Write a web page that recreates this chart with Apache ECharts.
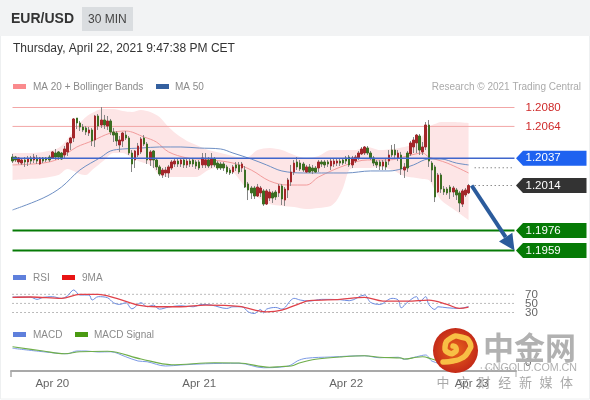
<!DOCTYPE html>
<html><head><meta charset="utf-8">
<style>html,body{margin:0;padding:0;background:#fff}#c{width:590px;height:400px}</style>
<script src="https://cdn.jsdelivr.net/npm/echarts@6/dist/echarts.min.js"></script>
</head><body><div id="c"></div>
<script>
// All price arrays are pips above 1.2000
const openPips=[38.1,38.1,33.9,33,35.6,33.9,37.3,35.6,37.3,32.2,
37.3,37.3,38.1,37.3,41.5,42.4,41.5,39.8,42.4,50,
54.2,71.1,66.9,63.5,62.7,58.4,61,52.5,72.8,65.2,
69.4,64.3,68.6,59.3,58.4,48.3,51.7,56.7,54.2,41.5,
35.6,39.8,42.4,54.2,49.1,35.6,43.2,35.6,29.7,22.9,
24.6,24.6,28.8,32.2,34.7,32.2,35.6,31.4,34.7,35.6,
33.9,33.9,31.4,31.4,35.6,31.4,36.4,33,32.2,32.2,
29.7,27.1,25.4,31.4,31.4,28.8,27.1,15.3,11.9,11.9,
5.1,7.7,9.4,-1.7,3.4,7.7,8.5,7.7,13.6,1.7,
10.2,17,25.4,33.9,33,32.2,25.4,29.7,28.8,28.8,
28.8,33.9,33.9,33.9,30.5,32.2,33,34.7,35.6,37.3,
38.1,31.4,34.7,37.3,40.7,41.5,45.7,41.5,37.3,33.9,
33.9,30.5,33.9,34.7,44,44,37.3,39.8,27.1,41.5,
40.7,46.6,50,55.9,42.4,46.6,65.2,33,29.7,8.5,
22.9,11,11,12.7,8.5,10.2,7.7,-1.7,6,7.7];
const closePips=[34.7,35.6,37.3,35.6,33.9,36.4,34.7,38.1,34.7,37.3,
34.7,35.6,35.6,42.4,38.1,38.1,36.4,44.9,50,54.2,
70.3,66.9,63.5,61,59.3,61,51.7,72.8,64.3,69.4,
65.2,68.6,59.3,56.7,51.7,52.5,58.4,54.2,41.5,32.2,
43.2,47.4,53.4,49.1,35.6,42.4,35.6,29.7,23.7,27.1,
27.1,29.7,33.9,34.7,32.2,35.6,31.4,34.7,32.2,32.2,
30.5,28.8,37.3,35.6,30.5,36.4,31.4,28.8,28.8,28.8,
25.4,24.6,29.7,28.8,25.4,32.2,12.7,10.2,7.7,5.1,
12.7,11.9,-1.7,9.4,8.5,3.4,4.3,13.6,2.6,11,
18.7,25.4,33,29.7,28,27.1,29.7,25.4,26.3,25.4,
33.9,32.2,31.4,32.2,34.7,34.7,34.7,33,33,34.7,
31.4,37.3,38.1,41.5,44.9,46.6,41.5,37.3,33,31.4,
30.5,33.9,29.7,39.8,39.8,39.8,41.5,28,29.7,28.8,
50,52.5,56.7,44,46.6,65.2,34.7,27.1,4.3,22.9,
11,8.5,7.7,8.5,11.9,6,-0.8,9.4,10.2,14];
const highPips=[40.7,39,38.1,37.3,38.1,39,39,40.7,39.8,38.1,
38.1,38.1,39.8,43.2,44.9,43.2,42.4,47.4,50.8,55,
71.1,71.1,68.6,66,64.3,63.5,62.7,73.7,74.5,80.4,
73.7,72.8,70.3,62.7,60.1,55.9,59.3,60.1,55.9,44,
44,50,55,56.7,50.8,44,44,37.3,31.4,28.8,
29.7,31.4,35.6,37.3,36.4,37.3,37.3,36.4,36.4,37.3,
35.6,35.6,41.5,41.5,38.1,41.5,38.1,34.7,33.9,33.9,
31.4,28.8,31.4,33.9,33.9,33.9,30.5,17,13.6,13.6,
15.3,13.6,11,11,11,9.4,10.2,15.3,15.3,12.7,
20.4,31.4,35.6,38.1,35.6,33.9,31.4,32.2,31.4,30.5,
35.6,35.6,35.6,35.6,36.4,36.4,36.4,36.4,37.3,39,
39.8,39,39.8,43.2,46.6,47.4,47.4,43.2,39,35.6,
35.6,35.6,37.3,44,48.3,49.1,44,42.4,33,43.2,
51.7,55,57.6,57.6,50.8,67.7,69.4,34.7,31.4,24.6,
24.6,13.6,12.7,14.4,13.6,11.9,9.4,11,11.9,15.3];
const lowPips=[33,33.9,32.2,31.4,29.7,30.5,32.2,33,32.2,31.4,
33,33.9,33.9,36.4,35.6,35.6,35.6,37.3,39,44,
50.8,61.8,60.1,59.3,56.7,55.9,47.4,46.6,61,62.7,
61.8,61,56.7,50.8,47.4,42.4,46.6,52.5,39.8,25.4,
28.8,38.1,40.7,47.4,32.2,30.5,28.8,27.1,22,20.4,
21.2,20.4,27.1,29.7,29.7,29.7,28.8,28.8,29.7,29.7,
28,27.1,28.8,28.8,28.8,28.8,29.7,27.1,27.1,26.3,
23.7,22.9,23.7,26.3,23.7,25.4,11.9,1.7,2.6,2.6,
4.3,4.3,-3.3,-2.5,0.9,-0.8,1.7,4.3,-2.5,-3.3,
3.4,13.6,22.9,27.1,26.3,25.4,24.6,24.6,23.7,24.6,
25.4,29.7,28.8,29.7,27.1,29.7,30.5,30.5,31.4,32.2,
29.7,28.8,33,35.6,39.8,39.8,39.8,35.6,30.5,28.8,
27.1,27.1,27.1,31.4,38.1,37.3,34.7,22.9,20.4,25.4,
39,41.5,41.5,39.8,39.8,44,29.7,17,0,7.7,
7.7,6,6,2.6,4.3,1.7,-8.4,-4.2,4.3,6.8];

const bandIdx=[0,5,10,15,18,20,22,24,26,28,30,33,36,39,42,45,48,51,54,57,60,64,68,72,76,78,80,84,88,92,96,100,104,106,108,110,112,116,120,124,128,132,134,136,138,140,144,149];
const bandUpperPips=[41.5,41.5,42.4,45.7,53.4,60.1,66.9,72,75.3,77.9,78.7,78.7,77,76.2,77.9,76.2,72,63.5,56.7,51.7,48.3,44,41.5,39,37.3,39.8,44,45.7,44,39.8,37.3,39,44,44,44,44,44,46.6,44,44.9,46.6,50,55.9,63.5,66,67.7,67.7,66.9];
const bandLowerPips=[18.7,19.5,20.4,22.9,28,26.3,23.7,22.9,27.1,31.4,35.6,41.5,41.5,37.3,33.9,31.4,22.9,21.2,21.2,21.2,21.2,27.1,29.7,25.4,12.7,8.5,4.3,-1.7,-3.3,-4.2,-5.9,-5,-3.3,1.7,11.9,27.1,28.8,28.8,29.7,27.1,22,20.4,19.5,18.7,10.2,1.7,-5.9,-15.2];
const ma20Idx=[0,10,15,18,21,26,32,37,43,47,51,57,61,65,72,78,84,90,96,100,109,116,119,123,129,134,136,142,149];
const ma20Pips=[31.4,33,36.4,41.5,46.6,51.7,58.4,60.1,55,50.8,42.4,37.3,36.4,35.6,33,27.1,17.8,14.4,14.4,21.2,31.4,35.6,35.6,35.6,39,41.5,38.1,33,24.6];
const ma50Idx=[0,10,16,22,29,32,36,42,48,55,61,68,72,78,83,88,95,101,109,117,123,127,131,136,140,145,149];
const ma50Pips=[-6.7,3.4,12.7,27.1,38.1,43.2,44.9,45.7,46.6,46.6,45.7,44.9,41.5,36.4,31.4,26.3,24.6,24.6,24.6,26.3,26.3,28,31.4,36.4,36.4,33,31.4];

const rsiIdx=[0,6,7,8,10,13,16,18,20,22,25,26,28,31,33,35,37,39,42,44,46,48,51,55,59,62,65,70,72,75,77,79,81,82,83,86,88,91,92,94,97,101,107,110,115,117,120,124,126,127,129,132,133,135,136,138,139,142,146,149];
const rsiValues=[64.1,63.6,61.1,58.9,63.3,64.8,61,67,79.6,68.5,68.5,57.4,64.8,62.6,51.5,47.8,51.5,38.2,51.5,42.6,46.3,37.4,41.9,44.8,42.6,47.8,46.3,38.9,42.6,42.6,31.5,27.8,36.7,29.3,37.4,41.1,37.4,57.4,61.1,57.4,55.2,58.9,58.2,55.9,68.5,52.2,47.8,61.1,57.4,40.4,52.2,64.8,53.7,64.8,47.8,36.7,42.6,40.4,38.9,43.4];
const rsiMaIdx=[0,6,16,22,28,34,41,47,55,63,74,83,88,94,97,107,115,121,129,136,142,146,149];
const rsiMaValues=[63.3,64.1,61.1,70,70,61.1,46.3,42.6,42.6,46.3,43.4,31.5,35.2,50,55.9,58.9,63.3,55.2,55.2,57.4,47.8,38.9,41.8];
const rsiLevels=[70,50,30];

const macdIdx=[0,10,18,21,24,28,32,37,41,44,50,55,63,74,82,88,91,93,96,104,115,120,126,128,132,135,137,142,149];
const macdValues=[5.5,4.1,3.3,4.4,4.4,4,4.1,2.1,0.4,0.1,-1.6,-1.2,-0.7,-0.5,-2.3,-2,-1.2,0.4,1.5,2,2.5,1.7,1.9,1.1,2.1,2.8,0.4,-1.2,-1.9];
const signalIdx=[0,10,17,22,31,42,52,66,74,84,88,91,94,99,107,115,120,127,128,132,134,137,142,149];
const signalValues=[6.1,4.4,3.3,4.1,4.3,1.2,-1.1,-0.3,-0.4,-2.1,-1.8,-1.6,-0.3,1.1,2,2.5,1.9,1.6,1.2,1.9,2.1,1.2,-0.5,-1.5];
const macdLevels=[0];
const macdDotted=-2.4;

const dayLabels={13:'Apr 20',61:'Apr 21',109:'Apr 22',150:'Apr 23'};
const slotCount=165;
const lineLevels=[1.2080,1.2064];
const tagLevels=[1.2037,1.2014,1.1976,1.1959];
const tagColors=['#1e62f0','#333333','#067a06','#067a06'];
const levelLineColors=['#3f66cc',null,'#067a06','#067a06'];
const dottedLevels=[1.2029,1.2014];
const arrowFrom=[150,1.2014];
const arrowTo=[164,1.1959];
const subtitleChars=['中','文','财','经','新','媒','体'];

const px=p=>+(1.2+p/1e4).toFixed(5);
const zip=(xs,ys,f)=>xs.map((x,i)=>[x,f?f(ys[i]):ys[i]]);
const categories=Array.from({length:slotCount},(_,i)=>dayLabels[i]||'');
const n=openPips.length,lastSlot=slotCount-1;
const wickData=[],bodyData=[];
for(let i=0;i<n;i++){
  const o=px(openPips[i]),c=px(closePips[i]);
  wickData.push([o,c,px(lowPips[i]),px(highPips[i])]);
  bodyData.push([o,c,Math.min(o,c),Math.max(o,c)]);
}
const FONT='"Liberation Sans", Arial, sans-serif';
const UP='#a3262a',DOWN='#3c6e22',WICK='#858585';
const lineSeries=(name,xi,yi,data,color,width,z)=>({type:'line',name,xAxisIndex:xi,yAxisIndex:yi,data,smooth:0.35,symbol:'none',silent:true,z,lineStyle:{color,width}});
const hLine=(name,xi,yi,v,color,width,z,type,from)=>({type:'line',name,xAxisIndex:xi,yAxisIndex:yi,data:[[from||0,v],[lastSlot,v]],symbol:'none',silent:true,z,lineStyle:{color,width,type:type||'solid'}});
const axisText=(name,yi,values)=>({type:'custom',name,xAxisIndex:yi,yAxisIndex:yi,data:values.map(v=>[0,v]),encode:{x:0,y:1},clip:false,silent:true,z:3,
  renderItem(p,api){const y=api.coord([0,api.value(1)])[1];
    return {type:'text',x:525,y:y+0.5,style:{text:String(api.value(1)),fill:'#666',fontSize:11.5,fontFamily:FONT,textVerticalAlign:'middle'}};}});
const chart=echarts.init(document.getElementById('c'),null,{renderer:'canvas'});
const hiddenX=i=>({type:'category',gridIndex:i,data:categories,show:false});
const txt=(x,y,text,o)=>({type:'text',x,y,silent:true,z:o&&o.z||5,style:Object.assign({text,fontFamily:FONT,fontSize:10,fill:'#8a8a8a',textVerticalAlign:'middle'},o||{})});
const rect=(x,y,w,h,fill,z)=>({type:'rect',silent:true,z:z||1,shape:{x,y,width:w,height:h},style:{fill}});

const option={
  animation:false,backgroundColor:'#fff',
  textStyle:{fontFamily:FONT},
  grid:[{left:11,width:505,top:100,height:160},{left:11,width:505,top:285,height:35},{left:11,width:505,top:340,height:31}],
  xAxis:[hiddenX(0),hiddenX(1),{type:'category',gridIndex:2,data:categories,
    axisLine:{show:true,onZero:false,lineStyle:{color:'#a9a9a9',width:2}},axisTick:{show:false},
    axisLabel:{interval:0,color:'#666',fontSize:11.5,fontFamily:FONT,margin:7}}],
  yAxis:[
    {type:'value',gridIndex:0,min:1.195096,max:1.208635,show:false},
    {type:'value',gridIndex:1,min:13.5,max:90.5,show:false},
    {type:'value',gridIndex:2,min:-3.6,max:8.8,show:false}
  ],
  series:[
    {type:'line',name:'BB base',stack:'bb',data:zip(bandIdx,bandLowerPips,px),smooth:0.3,symbol:'none',silent:true,lineStyle:{width:0,opacity:0},z:1},
    {type:'line',name:'Bollinger Bands',stack:'bb',data:bandIdx.map((b,i)=>[b,+(px(bandUpperPips[i])-px(bandLowerPips[i])).toFixed(5)]),smooth:0.3,symbol:'none',silent:true,lineStyle:{width:0,opacity:0},areaStyle:{color:'#fde5e6',opacity:1},z:1},
    ...lineLevels.map(v=>hLine('Level '+v,0,0,v,'#f2a6a6',1,2)),
    lineSeries('MA 20',0,0,zip(ma20Idx,ma20Pips,px),'#f29b9b',1,3),
    lineSeries('MA 50',0,0,zip(ma50Idx,ma50Pips,px),'#6e8fc4',1,3),
    {type:'candlestick',name:'wick',data:wickData,barWidth:1,silent:true,z:4,itemStyle:{color:WICK,color0:WICK,borderColor:WICK,borderColor0:WICK,borderWidth:1}},
    {type:'candlestick',name:'EUR/USD',data:bodyData,barWidth:2,silent:true,z:5,itemStyle:{color:UP,color0:DOWN,borderColor:UP,borderColor0:DOWN,borderWidth:1}},
    ...tagLevels.map((v,i)=>levelLineColors[i]?hLine('Line '+v,0,0,v,levelLineColors[i],i?2:1.5,6):null).filter(Boolean),
    ...dottedLevels.map(v=>hLine('Dotted '+v,0,0,v,'#555',1,6,[1,3],151)),
    {type:'custom',name:'Arrow',data:[[arrowFrom[0],arrowFrom[1],arrowTo[0],arrowTo[1]]],encode:{x:[0,2],y:[1,3]},clip:false,silent:true,z:8,
      renderItem(p,api){
        const a=api.coord([api.value(0),api.value(1)]),b=api.coord([api.value(2),api.value(3)]);
        const dx=b[0]-a[0],dy=b[1]-a[1],L=Math.hypot(dx,dy),ux=dx/L,uy=dy/L;
        const bx=b[0]-16*ux,by=b[1]-16*uy;
        return {type:'group',children:[
          {type:'line',shape:{x1:a[0],y1:a[1],x2:bx,y2:by},style:{stroke:'#2b5b9c',lineWidth:4}},
          {type:'polygon',shape:{points:[b,[bx-uy*8,by+ux*8],[bx+uy*8,by-ux*8]]},style:{fill:'#2b5b9c'}}
        ]};
      }},
    {type:'custom',name:'Tags',data:tagLevels.map((v,i)=>[0,v,i]),encode:{x:0,y:1},clip:false,silent:true,z:9,
      renderItem(p,api){
        const i=api.value(2),y=api.coord([0,api.value(1)])[1],x=p.coordSys.x+p.coordSys.width;
        return {type:'group',children:[
          {type:'polygon',shape:{points:[[x,y],[x+7,y-7.5],[586.5,y-7.5],[586.5,y+7.5],[x+7,y+7.5]]},style:{fill:tagColors[i]}},
          {type:'text',x:525.5,y,style:{text:api.value(1).toFixed(4),fill:'#fff',fontSize:11.5,fontFamily:FONT,textVerticalAlign:'middle'}}
        ]};
      }},
    {type:'custom',name:'Level text',data:lineLevels.map(v=>[0,v]),encode:{x:0,y:1},clip:false,silent:true,z:9,
      renderItem(p,api){
        const y=api.coord([0,api.value(1)])[1];
        return {type:'text',x:525.5,y,style:{text:api.value(1).toFixed(4),fill:'#cf2a2a',fontSize:11.5,fontFamily:FONT,textVerticalAlign:'middle'}};
      }},
    ...rsiLevels.map(v=>hLine('RSI '+v,1,1,v,'#777',1,2,[1,3])),
    axisText('RSI levels',1,rsiLevels),
    lineSeries('RSI',1,1,zip(rsiIdx,rsiValues),'#6b8be0',1,3),
    lineSeries('9MA',1,1,zip(rsiMaIdx,rsiMaValues),'#e0424a',1.3,4),
    hLine('MACD dotted',2,2,macdDotted,'#888',1,2,[1,3],153),
    axisText('MACD levels',2,macdLevels),
    lineSeries('MACD',2,2,zip(macdIdx,macdValues),'#7d9be6',1,3),
    lineSeries('MACD Signal',2,2,zip(signalIdx,signalValues),'#6fae4a',1.2,3)
  ],
  graphic:{elements:[
    {type:'rect',silent:true,z:0,shape:{x:0.5,y:0.5,width:589,height:398.5},style:{fill:'none',stroke:'#eef0f1',lineWidth:1}},
    rect(0,0,590,36,'#f2f3f4',1),
    txt(11,19.5,'EUR/USD',{fontSize:14,fontWeight:'bold',fill:'#333'}),
    rect(82,7,51,24,'#dadde0',2),
    txt(88,19.5,'30 MIN',{fontSize:12,fill:'#444'}),
    txt(13,48.5,'Thursday, April 22, 2021 9:47:38 PM CET',{fontSize:12,fill:'#333'}),
    rect(13,84,13,5,'#fa8a8d',2),
    txt(33,87,'MA 20 + Bollinger Bands'),
    rect(156,84,13,5,'#34609f',2),
    txt(175,87,'MA 50'),
    txt(581,87,'Research © 2021 Trading Central',{textAlign:'right',fill:'#aaaaaa'}),
    rect(13,275,13,5,'#5f80dc',2),
    txt(33,278,'RSI'),
    rect(62,275,13,5,'#e81414',2),
    txt(82,278,'9MA'),
    rect(13,332,13,5,'#5f80dc',2),
    txt(33,335,'MACD'),
    rect(75,332,13,5,'#4a9a12',2),
    txt(94,335,'MACD Signal'),
    {type:'line',silent:true,z:3,shape:{x1:11,y1:371,x2:11,y2:377},style:{stroke:'#a9a9a9',lineWidth:1.5}},
    {type:'line',silent:true,z:3,shape:{x1:516,y1:371,x2:516,y2:377},style:{stroke:'#a9a9a9',lineWidth:1}},
    {type:'circle',silent:true,z:20,shape:{cx:455.5,cy:350.5,r:22.5},style:{fill:new echarts.graphic.RadialGradient(0.5,0.5,0.5,[{offset:0,color:'#e8641c'},{offset:1,color:'#c42a18'}])}},
    {type:'polyline',silent:true,z:21,shape:{smooth:0.6,points:[[443,362],[453,361],[462,358],[468,352],[470,343],[461,337],[451,338],[445,347],[449,353],[455,352],[456,348],[453,346]]},style:{fill:'none',stroke:'#f8bf45',lineWidth:5.5,lineCap:'round'}},
    txt(483,347,'中金网',{z:20,fontFamily:'"Noto Sans CJK SC"',fontSize:31,fontWeight:'bold',fill:'#b1b1b1'}),
    txt(485,368.5,'CNGOLD.COM.CN',{z:20,fontSize:10.7,fill:'#b0b0b0'}),
    ...subtitleChars.map((c,i)=>txt(436.5+i*20.6,382,c,{z:20,fontFamily:'"Noto Sans CJK SC"',fontSize:13,fill:'rgba(140,140,140,0.75)'}))
  ]}
};
chart.setOption(option);
</script></body></html>
